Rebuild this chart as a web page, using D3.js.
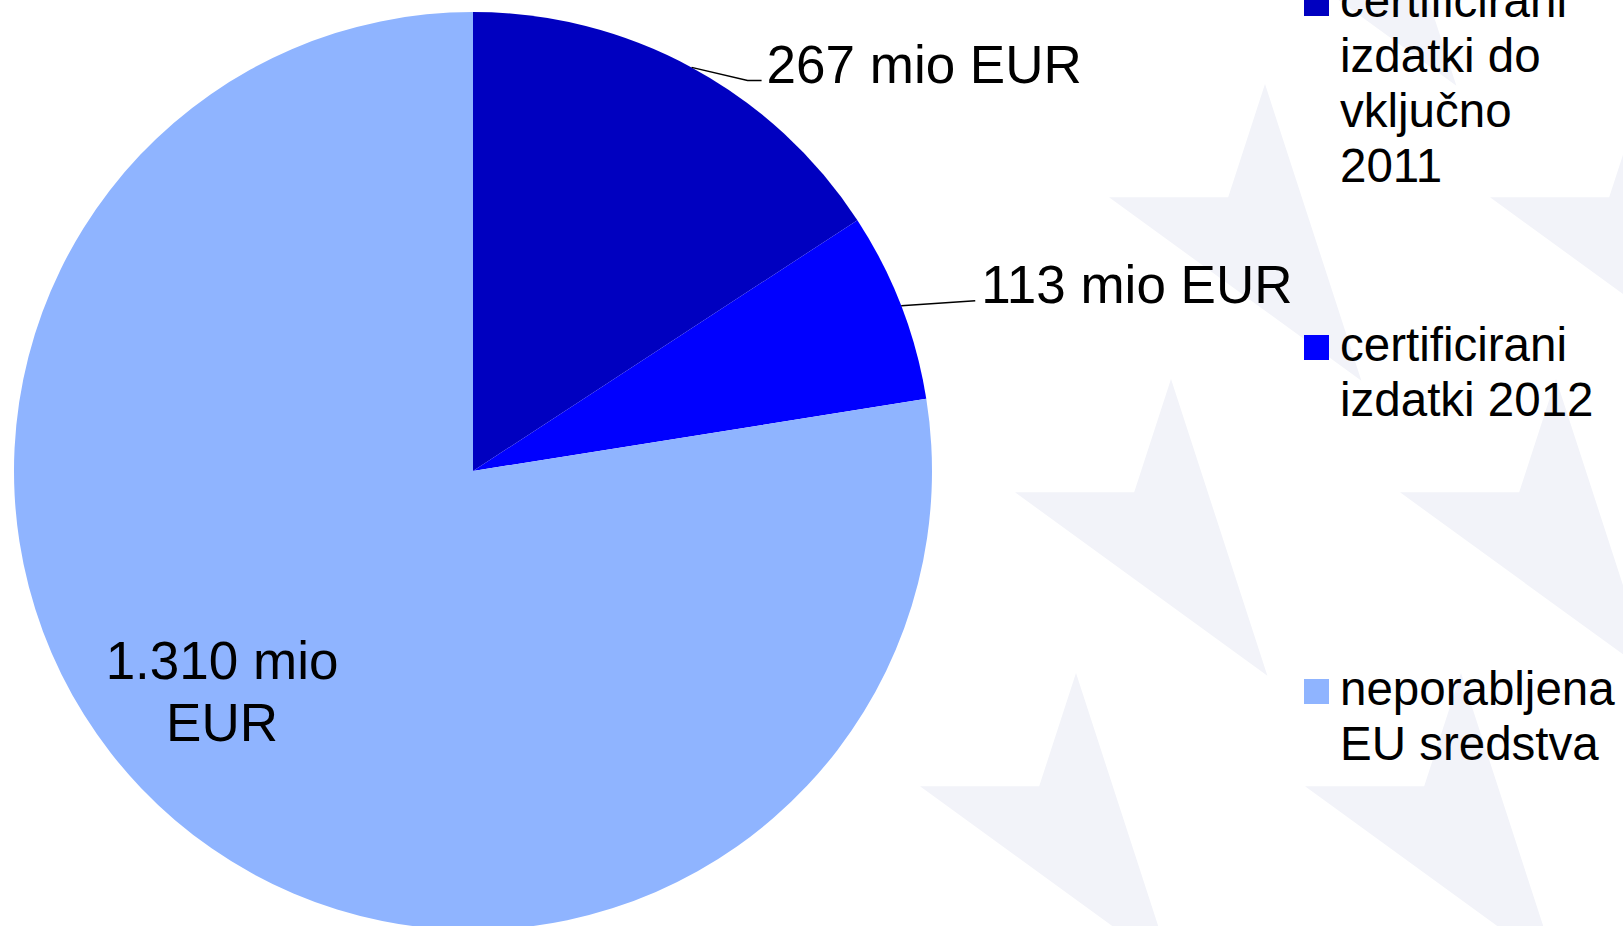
<!DOCTYPE html>
<html>
<head>
<meta charset="utf-8">
<script src="https://cdn.jsdelivr.net/npm/d3@7"></script>
<style>
  body { margin: 0; background: #fff; }
  svg { display: block; font-family: "Liberation Sans", Arial, sans-serif; }
</style>
</head>
<body>
<div id="chart"></div>
<script>
// data
let categories = ["certificirani izdatki do vključno 2011", "certificirani izdatki 2012", "neporabljena EU sredstva"];
let values = [267, 113, 1310];
let valueLabels = [["267 mio EUR"], ["113 mio EUR"], ["1.310 mio", "EUR"]];
let legendLines = [
  ["certificirani", "izdatki do", "vključno", "2011"],
  ["certificirani", "izdatki 2012"],
  ["neporabljena", "EU sredstva"]
];
let colors = ["#0000C0", "#0000FF", "#8FB4FF"];

// background stars (centres)
let stars = [[1360, -47], [1265, 248], [1646, 248], [1171, 543], [1556, 543], [1076, 837], [1461, 837]];

let width = 1623;
let height = 926;
let cx = 473, cy = 471, radius = 459;

let svg = d3.select("#chart").append("svg")
  .attr("width", width)
  .attr("height", height);

svg.append("rect").attr("width", width).attr("height", height).attr("fill", "#fff");

// stars - only the shaded left facet of each star is visible
function starFacet(x, y, R) {
  let r = R * 0.382;
  let deg = Math.PI / 180;
  let pts = [
    [x, y - R],                                             // top point
    [x - r * Math.sin(36 * deg), y - r * Math.cos(36 * deg)], // inner notch
    [x - R * Math.sin(72 * deg), y - R * Math.cos(72 * deg)], // left tip
    [x + R * Math.sin(36 * deg), y + R * Math.cos(36 * deg)]  // bottom right point
  ];
  return "M" + pts.join("L") + "Z";
}
svg.append("g").selectAll("path")
  .data(stars)
  .enter()
  .append("path")
  .attr("d", (d) => starFacet(d[0], d[1], 164))
  .attr("fill", "#F2F3F9");

// pie
let pie = d3.pie().sort(null).value((d) => d);
let arcs = pie(values);
let arc = d3.arc().innerRadius(0).outerRadius(radius);
let edge = d3.arc().innerRadius(radius).outerRadius(radius);

let g = svg.append("g").attr("transform", "translate(" + cx + "," + cy + ")");

g.selectAll("path.slice")
  .data(arcs)
  .enter()
  .append("path")
  .attr("class", "slice")
  .attr("d", arc)
  .attr("fill", (d, i) => colors[i]);

// label placement: offset of elbow / text from the slice edge point
let labelPos = [
  { elbow: [56, 13], end: [70, 13], text: [75, 16] },
  { elbow: [74, -5], end: [74, -5], text: [80, -3] },
  null
];

arcs.forEach((d, i) => {
  let p = edge.centroid(d);
  let lp = labelPos[i];
  if (lp) {
    g.append("polyline")
      .attr("points", [p, [p[0] + lp.elbow[0], p[1] + lp.elbow[1]], [p[0] + lp.end[0], p[1] + lp.end[1]]].join(" "))
      .attr("fill", "none")
      .attr("stroke", "#000")
      .attr("stroke-width", 1.5);
    g.append("text")
      .attr("x", p[0] + lp.text[0])
      .attr("y", p[1] + lp.text[1])
      .attr("font-size", 53)
      .attr("fill", "#000")
      .text(valueLabels[i][0]);
  } else {
    // inside label
    let t = g.append("text")
      .attr("y", 208)
      .attr("text-anchor", "middle")
      .attr("font-size", 53)
      .attr("fill", "#000");
    valueLabels[i].forEach((line, j) => {
      t.append("tspan").attr("x", -251).attr("dy", j == 0 ? 0 : 62).text(line);
    });
  }
});

// legend
let legendY = [17, 361, 705];
let legend = svg.append("g").attr("transform", "translate(1304,0)");
legendLines.forEach((lines, i) => {
  legend.append("rect")
    .attr("x", 0)
    .attr("y", legendY[i] - 26)
    .attr("width", 25)
    .attr("height", 25)
    .attr("fill", colors[i]);
  let t = legend.append("text")
    .attr("x", 36)
    .attr("y", legendY[i])
    .attr("font-size", 47.5)
    .attr("fill", "#000");
  lines.forEach((line, j) => {
    t.append("tspan").attr("x", 36).attr("y", legendY[i] + j * 55).text(line);
  });
});
</script>
</body>
</html>
